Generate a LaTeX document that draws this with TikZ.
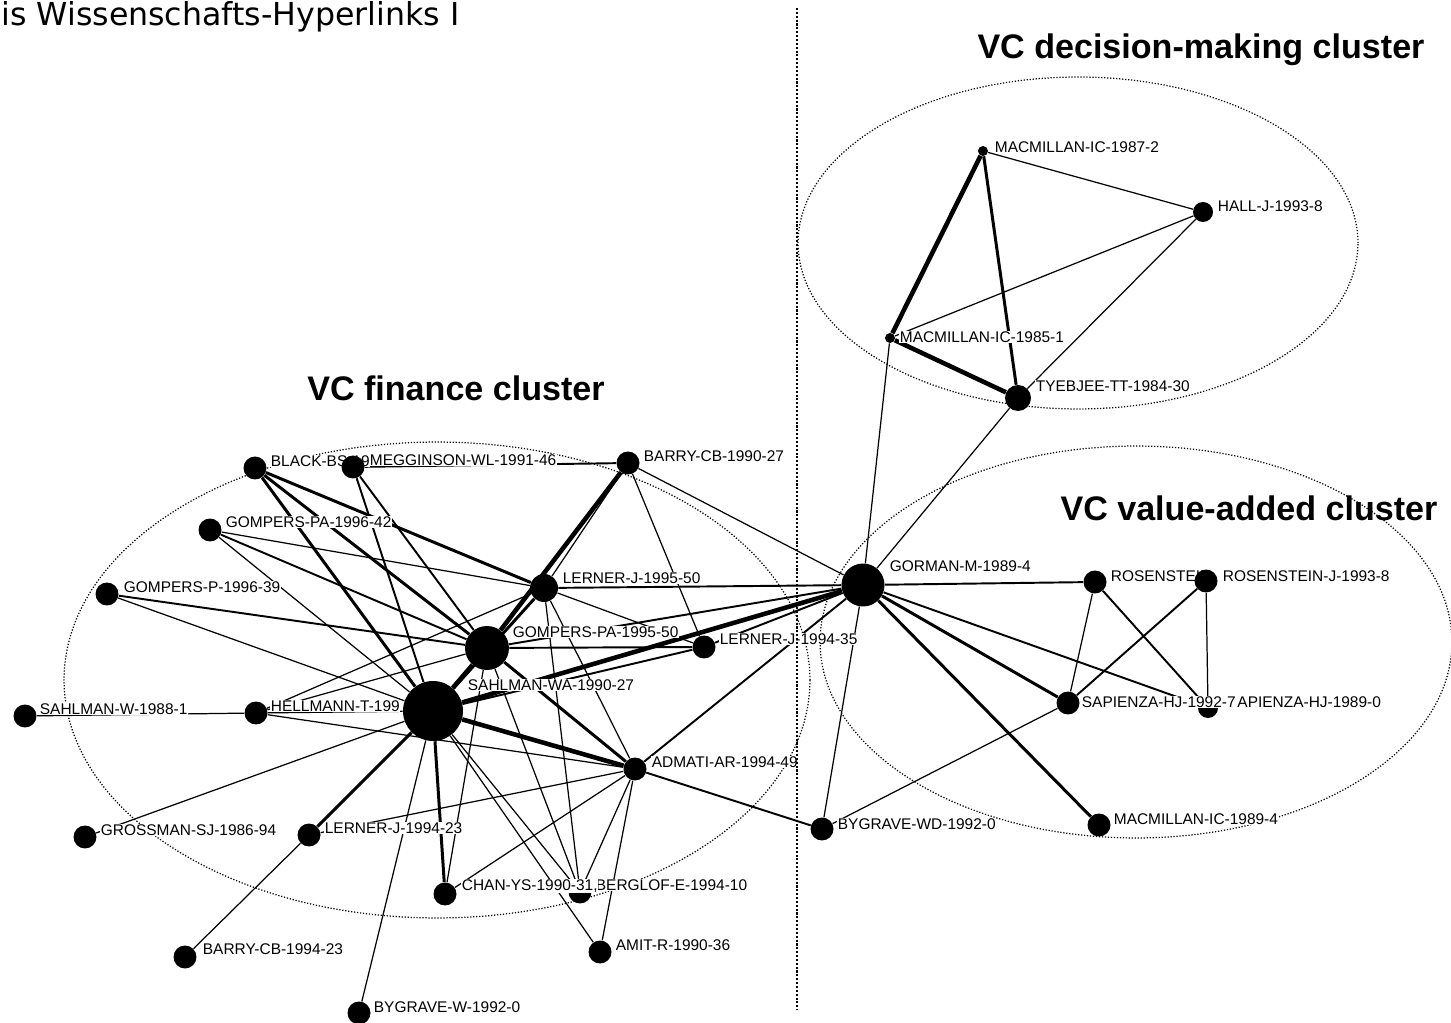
\documentclass[tikz,border=0pt]{standalone}
\usepackage{fontspec}
\setmainfont{Liberation Sans}
\newfontfamily\titlefont{DejaVu Sans}
\usetikzlibrary{positioning,backgrounds}

\begin{document}
\begin{tikzpicture}[x=0.02cm, y=-0.02cm,
  dot/.style={circle, fill=black, inner sep=0pt, minimum size=#1},
  dot/.default=0.46cm,
  lbl/.style={anchor=west, fill=white, inner sep=0.3pt, font=\fontsize{8.8}{10}\selectfont},
  cluster/.style={font=\fontsize{19.4}{22}\selectfont\bfseries},
  ring/.style={densely dotted, line width=0.7pt},
  every edge/.append style={line width=0.7pt},
  wmid/.style={line width=1.1pt},
  wthick/.style={line width=1.7pt},
  wheavy/.style={line width=2.6pt}]

\useasboundingbox (0,0) rectangle (1451,1023);

\node[anchor=base west, inner sep=0pt, font=\titlefont\fontsize{18}{22}\selectfont] (head) at (1,26) {is Wissenschafts-Hyperlinks I};

% decision-making cluster
\node[dot=0.2cm] (m87) at (983,151) {};
\node[lbl] (m87-l) at (994,147) {MACMILLAN-IC-1987-2};
\node[dot=0.4cm] (hall) at (1203,212) {};
\node[lbl] (hall-l) at (1217,206) {HALL-J-1993-8};
\node[dot=0.2cm] (m85) at (890,338) {};
\node[lbl] (m85-l) at (899,337) {MACMILLAN-IC-1985-1};
\node[dot=0.52cm] (tyeb) at (1018,398) {};
\node[lbl] (tyeb-l) at (1035,386) {TYEBJEE-TT-1984-30};

% value-added cluster
\node[dot] (ros1) at (1095,582) {};
\node[lbl] (ros1-l) at (1110,576) {ROSENSTEIN};
\node[dot] (ros2) at (1206,581) {};
\node[lbl] (ros2-l) at (1222,576) {ROSENSTEIN-J-1993-8};
\node[dot=0.4cm] (sap89) at (1208,708) {};
\node[dot] (sap92) at (1068,703) {};
\node[lbl] (sap92-l) at (1081,702) {SAPIENZA-HJ-1992-7};
\node[lbl] (sap89-l) at (sap92-l.east) {APIENZA-HJ-1989-0};
\node[dot] (mac89) at (1099,825) {};
\node[lbl] (mac89-l) at (1113,819) {MACMILLAN-IC-1989-4};
\node[dot] (bygwd) at (822,829) {};
\node[lbl] (bygwd-l) at (837,824) {BYGRAVE-WD-1992-0};

% finance cluster
\node[dot] (blackbs) at (255,468) {};
\node[lbl] (blackbs-l) at (270,461) {BLACK-BS-19};
\node[dot] (megg) at (353,467) {};
\node[lbl] (megg-l) at (369,460) {MEGGINSON-WL-1991-46};
\node[dot] (barry90) at (628,463) {};
\node[lbl] (barry90-l) at (643,456) {BARRY-CB-1990-27};
\node[dot] (gomp96a) at (210,530) {};
\node[lbl] (gomp96a-l) at (225,522) {GOMPERS-PA-1996-42};
\node[dot] (gomp96b) at (107,594) {};
\node[lbl] (gomp96b-l) at (123,587) {GOMPERS-P-1996-39};
\node[dot=0.56cm] (lern95) at (544,588) {};
\node[lbl] (lern95-l) at (562,578) {LERNER-J-1995-50};
\node[dot] (lern9435) at (704,647) {};
\node[lbl] (lern9435-l) at (719,639) {LERNER-J-1994-35};
\node[dot] (sahlw) at (25,716) {};
\node[lbl] (sahlw-l) at (39,709) {SAHLMAN-W-1988-1};
\node[dot] (hellm) at (256,713) {};
\node[lbl] (hellm-l) at (270,706) {HELLMANN-T-199};
\node[dot] (admati) at (635,769) {};
\node[lbl] (admati-l) at (651,762) {ADMATI-AR-1994-49};
\node[dot] (gross) at (85,837) {};
\node[lbl] (gross-l) at (100,830) {GROSSMAN-SJ-1986-94};
\node[dot] (lern9423) at (309,835) {};
\node[lbl] (lern9423-l) at (324,828) {LERNER-J-1994-23};
\node[dot] (berglof) at (580,892) {};
\node[lbl] (berglof-l) at (595,885) {BERGLOF-E-1994-10};
\node[dot] (chan) at (445,894) {};
\node[lbl] (chan-l) at (461,886) {CHAN-YS-1990-31,};
\node[dot] (amit) at (600,952) {};
\node[lbl] (amit-l) at (615,945) {AMIT-R-1990-36};
\node[dot] (barry94) at (185,957) {};
\node[lbl] (barry94-l) at (202,949) {BARRY-CB-1994-23};
\node[dot] (bygw) at (359,1013) {};
\node[lbl] (bygw-l) at (373,1007) {BYGRAVE-W-1992-0};

% hubs
\node[dot=1.2cm] (sahlwa) at (433,711) {};
\node[lbl] (sahlwa-l) at (467,685) {SAHLMAN-WA-1990-27};
\node[dot=0.88cm] (gomp95) at (487,648) {};
\node[lbl] (gomp95-l) at (512,632) {GOMPERS-PA-1995-50};
\node[dot=0.86cm] (gorman) at (863,585) {};
\node[lbl] (gorman-l) at (889,566) {GORMAN-M-1989-4};

\node[cluster] (dm) at (1201,50) {VC decision-making cluster};
\node[cluster] (fin) at (456,388) {VC finance cluster};
\node[cluster] (va) at (1249,508) {VC value-added cluster};

\coordinate (top) at (797,8);
\coordinate (bot) at (797,1010);
\draw[densely dotted, line width=1.2pt] (top) -- (bot);

\begin{scope}[on background layer]
\draw[ring] (1078,243) ellipse [x radius=5.6cm, y radius=3.32cm];
\draw[ring] (437,680) ellipse [x radius=7.46cm, y radius=4.76cm];
\draw[ring] (1136,642) ellipse [x radius=6.32cm, y radius=3.92cm];

\path
  (m87) edge (hall)
  (m87) edge[wheavy] (m85)
  (m87) edge[wthick] (tyeb)
  (m85) edge[wheavy] (tyeb)
  (m85) edge (hall)
  (hall) edge (tyeb)
  (m85) edge (gorman)
  (tyeb) edge (gorman)
  (gorman) edge[wmid] (ros1)
  (gorman) edge[wthick] (sap92)
  (gorman) edge[wmid] (sap89)
  (gorman) edge[wthick] (mac89)
  (gorman) edge (bygwd)
  (ros1) edge (sap92)
  (ros1) edge[wmid] (sap89)
  (ros2) edge[wmid] (sap92)
  (ros2) edge (sap89)
  (sap92) edge (bygwd)
  (admati) edge[wmid] (bygwd)
  (gorman) edge[wheavy] (sahlwa)
  (gorman) edge[wmid] (lern95)
  (gorman) edge[wmid] (gomp95)
  (gorman) edge[wmid] (lern9435)
  (gorman) edge[wmid] (admati)
  (gorman) edge (barry90)
  (barry90) edge[wmid] (megg)
  (barry90) edge[wheavy] (gomp95)
  (barry90) edge (lern95)
  (barry90) edge (lern9435)
  (gomp95) edge[wheavy] (sahlwa)
  (sahlwa) edge[wthick] (lern95)
  (sahlwa) edge[wheavy] (admati)
  (gomp95) edge[wthick] (admati)
  (blackbs) edge[wthick] (sahlwa)
  (blackbs) edge[wthick] (gomp95)
  (blackbs) edge[wthick] (lern95)
  (megg) edge[wmid] (sahlwa)
  (megg) edge[wmid] (gomp95)
  (gomp96a) edge (lern95)
  (gomp96a) edge[wmid] (gomp95)
  (gomp96a) edge (sahlwa)
  (gomp96b) edge[wmid] (gomp95)
  (gomp96b) edge (sahlwa)
  (sahlw) edge (hellm)
  (hellm) edge (sahlwa)
  (hellm) edge (lern95)
  (hellm) edge (gomp95)
  (hellm) edge (admati)
  (gross) edge (sahlwa)
  (lern9423) edge[wthick] (sahlwa)
  (barry94) edge (lern9423)
  (bygw) edge (sahlwa)
  (lern9423) edge (admati)
  (sahlwa) edge[wthick] (chan)
  (gomp95) edge (chan)
  (chan) edge (admati)
  (sahlwa) edge (berglof)
  (gomp95) edge (berglof)
  (lern95) edge (berglof)
  (admati) edge (berglof)
  (sahlwa) edge (amit)
  (admati) edge (amit)
  (lern95) edge (lern9435)
  (lern95) edge (admati)
  (gomp95) edge[wmid] (lern9435)
  (sahlwa) edge[wmid] (lern9435);
\end{scope}
\end{tikzpicture}
\end{document}
